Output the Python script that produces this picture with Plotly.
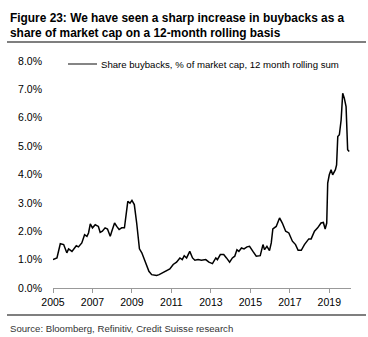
import plotly.graph_objects as go

# Data: decimal year vs share buybacks (% of market cap, 12m rolling sum)
years = [2005.00, 2005.20, 2005.37, 2005.54, 2005.70, 2005.79, 2005.96, 2006.18, 2006.29, 2006.46,
         2006.60, 2006.72, 2006.80, 2006.89, 2007.00, 2007.14, 2007.30, 2007.39, 2007.50, 2007.64,
         2007.76, 2007.90, 2007.98, 2008.12, 2008.23, 2008.35, 2008.48, 2008.62, 2008.79, 2008.90,
         2009.00, 2009.12, 2009.24, 2009.38, 2009.50, 2009.63, 2009.75, 2009.86, 2010.00, 2010.25,
         2010.38, 2010.59, 2010.76, 2010.92, 2011.09, 2011.26, 2011.43, 2011.55, 2011.65, 2011.77,
         2011.93, 2012.07, 2012.19, 2012.35, 2012.52, 2012.74, 2012.90, 2013.08, 2013.25, 2013.33,
         2013.48, 2013.65, 2013.79, 2013.95, 2014.09, 2014.21, 2014.32, 2014.42, 2014.55, 2014.68,
         2014.83, 2014.96, 2015.13, 2015.30, 2015.50, 2015.64, 2015.72, 2015.84, 2015.97, 2016.06,
         2016.14, 2016.31, 2016.48, 2016.62, 2016.79, 2016.95, 2017.13, 2017.29, 2017.42, 2017.58,
         2017.74, 2017.96, 2018.08, 2018.25, 2018.41, 2018.58, 2018.70, 2018.79, 2018.87, 2018.92,
         2019.00, 2019.09, 2019.17, 2019.31, 2019.37, 2019.43, 2019.51, 2019.60, 2019.68, 2019.76,
         2019.85, 2019.93, 2020.01]
buybacks = [1.00, 1.06, 1.56, 1.53, 1.24, 1.38, 1.29, 1.49, 1.45, 1.59,
            1.88, 1.82, 1.94, 2.26, 2.12, 2.23, 2.17, 1.96, 2.00, 2.12,
            2.08, 1.82, 2.00, 2.29, 2.17, 2.06, 2.12, 2.12, 3.05, 2.99,
            3.09, 2.94, 2.29, 1.38, 1.24, 1.00, 0.83, 0.59, 0.47, 0.44,
            0.47, 0.56, 0.62, 0.67, 0.83, 0.91, 1.06, 1.00, 1.14, 1.06,
            1.29, 1.06, 0.98, 1.00, 0.98, 1.00, 0.91, 0.86, 1.06, 1.00,
            1.18, 1.18, 1.06, 0.91, 1.06, 1.12, 1.35, 1.29, 1.41, 1.38,
            1.45, 1.47, 1.29, 1.12, 1.14, 1.53, 1.35, 1.47, 1.32, 1.59,
            2.08, 2.17, 2.47, 2.29, 2.00, 1.94, 1.65, 1.53, 1.33, 1.33,
            1.53, 1.73, 1.73, 2.00, 2.12, 2.29, 2.31, 2.08, 2.29, 3.70,
            3.99, 4.17, 3.99, 4.17, 4.34, 5.34, 5.40, 5.92, 6.86, 6.69,
            6.39, 4.87, 4.81]

x_ticks = [2005, 2007, 2009, 2011, 2013, 2015, 2017, 2019]
x_labels = ["2005", "2007", "2009", "2011", "2013", "2015", "2017", "2019"]
y_ticks = [0, 1, 2, 3, 4, 5, 6, 7, 8]
y_labels = ["0.0%", "1.0%", "2.0%", "3.0%", "4.0%", "5.0%", "6.0%", "7.0%", "8.0%"]

title_lines = ["Figure 23: We have seen a sharp increase in buybacks as a",
               "share of market cap on a 12-month rolling basis"]
series_name = "Share buybacks, % of market cap, 12 month rolling sum"
source_text = "Source: Bloomberg, Refinitiv, Credit Suisse research"

W, H = 368, 337
L, R, T, B = 53, 17, 61, 49
pw, ph = W - L - R, H - T - B


def px(x):
    return (x - L) / pw


def py(y):
    return (H - B - y) / ph


FONT = "Liberation Sans, Arial, sans-serif"

fig = go.Figure()
fig.add_trace(go.Scatter(x=years, y=buybacks, mode="lines", name=series_name,
                         line=dict(color="black", width=1.5), showlegend=False))

fig.update_layout(
    width=W, height=H,
    margin=dict(l=L, r=R, t=T, b=B),
    paper_bgcolor="white", plot_bgcolor="white",
    font=dict(family=FONT, size=10, color="black"),
    xaxis=dict(range=[2005, 2020.1], tickvals=x_ticks, ticktext=x_labels,
               showgrid=False, zeroline=False, showline=True, linecolor="#999999",
               linewidth=1, ticks="outside", ticklen=4, tickcolor="#999999",
               tickfont=dict(size=10.5, family=FONT)),
    yaxis=dict(range=[0, 8], tickvals=y_ticks, ticktext=y_labels,
               showgrid=False, zeroline=False, showline=False, ticks="",
               ticklabelstandoff=10, tickfont=dict(size=10.5, family=FONT)),
)

shapes = [
    dict(type="line", xref="paper", yref="paper", x0=px(7), x1=px(366), y0=py(42), y1=py(42),
         line=dict(color="black", width=1.2)),
    dict(type="line", xref="paper", yref="paper", x0=px(7), x1=px(366), y0=py(315), y1=py(315),
         line=dict(color="black", width=1.2)),
    dict(type="line", xref="paper", yref="paper", x0=px(68), x1=px(97), y0=py(64), y1=py(64),
         line=dict(color="#333333", width=1.2)),
]
fig.update_layout(shapes=shapes)

annotations = [
    dict(text="<b>" + title_lines[0] + "</b>", x=px(8), y=py(18), xref="paper", yref="paper",
         xanchor="left", yanchor="middle", showarrow=False, font=dict(size=11.9, family=FONT)),
    dict(text="<b>" + title_lines[1] + "</b>", x=px(8), y=py(33), xref="paper", yref="paper",
         xanchor="left", yanchor="middle", showarrow=False, font=dict(size=11.9, family=FONT)),
    dict(text=series_name, x=px(99), y=py(64), xref="paper", yref="paper",
         xanchor="left", yanchor="middle", showarrow=False, font=dict(size=9.6, family=FONT)),
    dict(text=source_text, x=px(8), y=py(328), xref="paper", yref="paper",
         xanchor="left", yanchor="middle", showarrow=False,
         font=dict(size=9.6, family=FONT, color="#333333")),
]
fig.update_layout(annotations=annotations)

fig.write_html("out.html")
